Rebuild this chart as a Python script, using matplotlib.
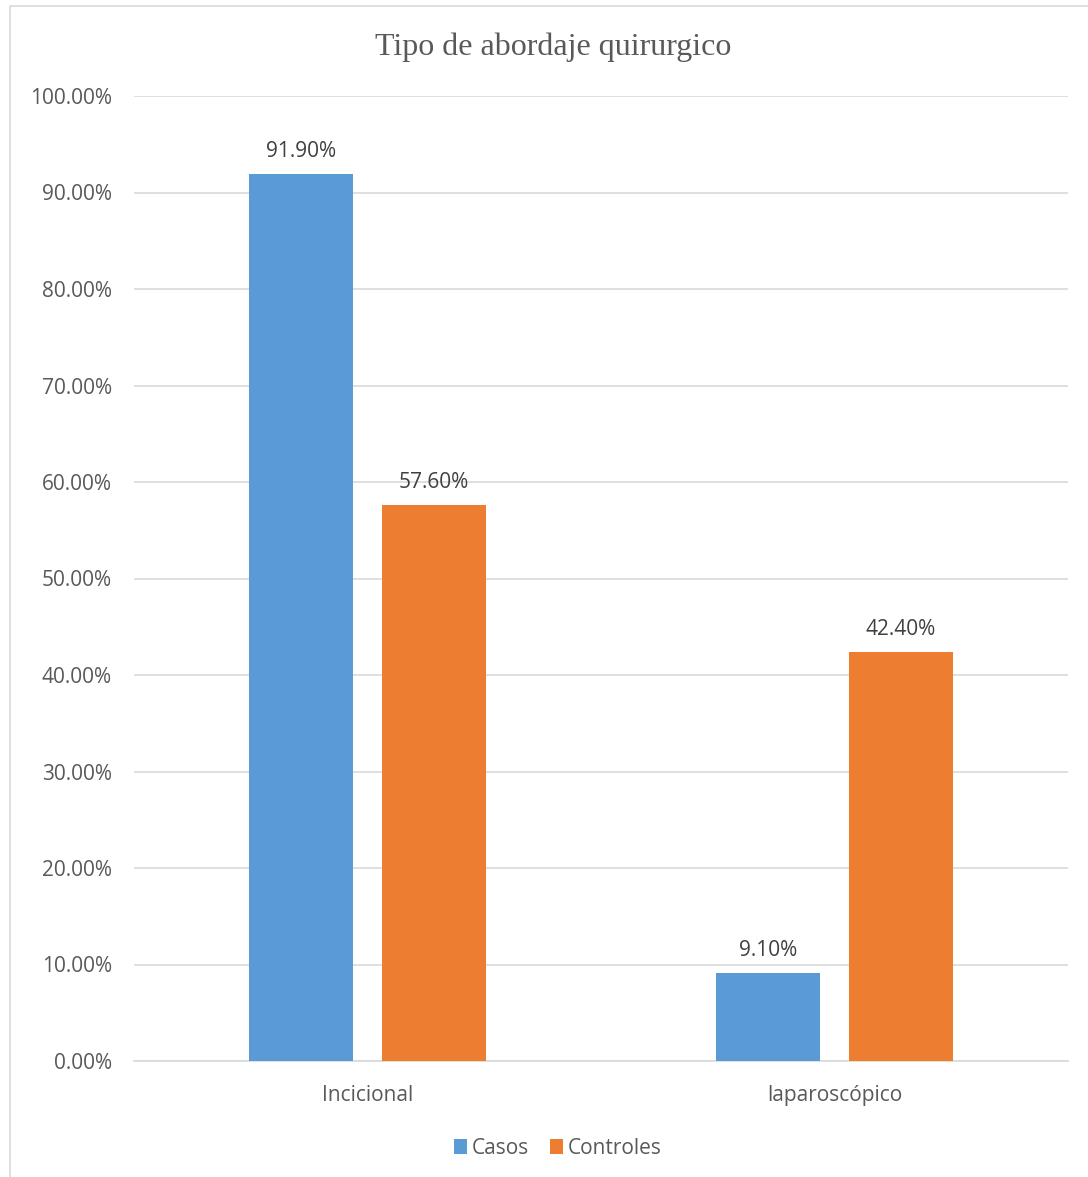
import numpy as np
import matplotlib
matplotlib.use("Agg")
import matplotlib.pyplot as plt
from matplotlib.patches import Rectangle
from matplotlib.ticker import FuncFormatter

categories = ["Incicional", "laparoscópico"]
series_names = ["Casos", "Controles"]
casos = [91.90, 9.10]
controles = [57.60, 42.40]
colors = ["#5B9BD5", "#ED7D31"]

W, H = 1088, 1177
fig = plt.figure(figsize=(W / 100, H / 100), dpi=100)
plt.rcParams['font.family'] = ['Open Sans', 'DejaVu Sans']

# chart area border (Excel-like), running past the right/bottom edges
fig.patches.append(Rectangle((10 / W, -0.05), 1.2, 1 - 6 / H + 0.05,
                             transform=fig.transFigure, fill=False,
                             edgecolor="#D9D9D9", linewidth=1.2))

ax = fig.add_axes([134 / W, 1 - 1061 / H, (1068 - 134) / W, (1061 - 96) / H])

x = np.arange(len(categories))
bw = 0.2227
off = 0.1424
b1 = ax.bar(x - off, casos, bw, color=colors[0], label=series_names[0], zorder=3)
b2 = ax.bar(x + off, controles, bw, color=colors[1], label=series_names[1], zorder=3)

for bars, vals in [(b1, casos), (b2, controles)]:
    for rect, v in zip(bars, vals):
        ax.annotate(f"{v:.2f}%", (rect.get_x() + rect.get_width() / 2, v),
                    xytext=(0, 8.5), textcoords="offset points",
                    ha="center", va="bottom", fontsize=15, color="#404040")

ax.set_xlim(-0.5, 1.5)
ax.set_ylim(0, 100)
ax.set_yticks(np.arange(0, 101, 10))
ax.yaxis.set_major_formatter(FuncFormatter(lambda v, p: f"{v:.2f}%"))
ax.set_xticks(x)
ax.set_xticklabels(categories)
ax.tick_params(axis="both", length=0, labelsize=15, labelcolor="#595959")
ax.tick_params(axis="x", pad=17)
ax.tick_params(axis="y", pad=16)
ax.grid(axis="y", color="#D9D9D9", linewidth=1.2, zorder=0)
for s in ["top", "right", "left"]:
    ax.spines[s].set_visible(False)
ax.spines["bottom"].set_color("#D9D9D9")
ax.spines["bottom"].set_linewidth(1.2)

fig.text(553 / W, 1 - 47 / H, "Tipo de abordaje quirurgico", ha="center", va="center",
         fontsize=23, color="#595959", family="Liberation Serif")

fig.legend(handles=[b1, b2], labels=series_names, loc="center",
           bbox_to_anchor=(558 / W, 1 - 1148 / H), ncol=2, frameon=False,
           fontsize=15, labelcolor="#595959", handlelength=0.6, handleheight=0.7,
           handletextpad=0.25, columnspacing=1.0)

fig.savefig("out.png", dpi=100)
